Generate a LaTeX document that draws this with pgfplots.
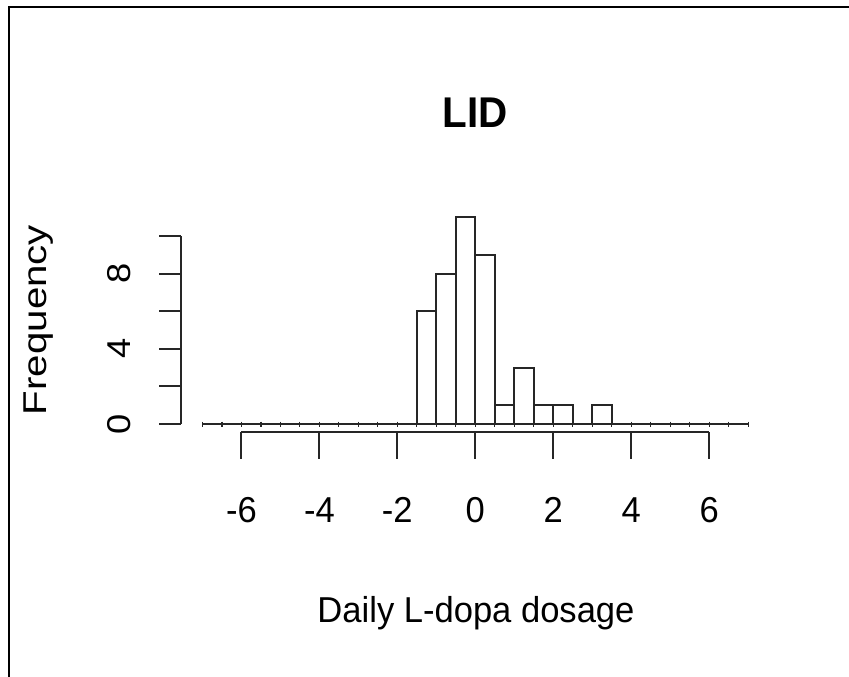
\documentclass[border=0pt]{standalone}
\usepackage{fontspec}
\setmainfont{Liberation Sans}
\usepackage{pgfplots}
\usepackage{pgfplotstable}
\pgfplotsset{compat=1.18}

% Histogram counts: left edge of each 0.5-wide bin and its frequency
\pgfplotstableread{
x     y
-7.0  0
-6.5  0
-6.0  0
-5.5  0
-5.0  0
-4.5  0
-4.0  0
-3.5  0
-3.0  0
-2.5  0
-2.0  0
-1.5  6
-1.0  8
-0.5  11
 0.0  9
 0.5  1
 1.0  3
 1.5  1
 2.0  1
 2.5  0
 3.0  1
 3.5  0
 4.0  0
 4.5  0
 5.0  0
 5.5  0
 6.0  0
 6.5  0
 7.0  0
}\histdata

% horizontal and vertical text, slightly condensed / elongated
\newcommand{\htext}[1]{\scalebox{0.96}[1]{#1}}
\newcommand{\vtext}[1]{\scalebox{1.12}[1]{#1}}

\begin{document}
\begin{tikzpicture}[x=1pt,y=1pt]
\useasboundingbox (0pt,0pt) rectangle (849pt,-677pt);
\draw[line width=2pt] (9pt,-678pt) -- (9pt,-7pt) -- (850pt,-7pt);

\begin{axis}[
  scale only axis,
  width=589.4pt, height=223.3pt,
  at={(180.6pt,-432.3pt)}, anchor=south west,
  xmin=-7.56, xmax=7.56, ymin=-0.44, ymax=11.44,
  hide axis, clip=false,
]
\addplot[ybar interval, fill=white, draw=black!85, line width=2pt] table[x=x,y=y] {\histdata};
\addplot[only marks, mark=|, mark size=2.5pt, mark options={line width=1.2pt, draw=black!85}] table[x=x,y expr=0] {\histdata};

% x axis (R style, offset below the bars)
\draw[line width=2pt, black!85] (axis cs:-6,-0.44) -- (axis cs:6,-0.44);
\pgfplotsinvokeforeach{-6,-4,-2,0,2,4,6}{
  \draw[line width=2pt, black!85] (axis cs:#1,-0.44) -- ++(0pt,-27pt);
  \node[anchor=base, inner sep=0pt, font=\fontsize{36}{43}\selectfont]
    at ([yshift=-90pt]axis cs:#1,-0.44) {\htext{#1}};
}
% y axis
\draw[line width=2pt, black!85] (axis cs:-7.56,0) -- (axis cs:-7.56,10);
\pgfplotsinvokeforeach{0,2,4,6,8,10}{
  \draw[line width=2pt, black!85] (axis cs:-7.56,#1) -- ++(-22pt,0pt);
}
\pgfplotsinvokeforeach{0,4,8}{
  \node[anchor=base, rotate=90, inner sep=0pt, font=\fontsize{33}{40}\selectfont]
    at ([xshift=-50.6pt]axis cs:-7.56,#1) {\scalebox{1.1}[1]{#1}};
}
\end{axis}

\node[anchor=base, inner sep=0pt, font=\fontsize{43}{50}\selectfont\bfseries] at (475.5pt,-128pt) {\scalebox{0.94}[1]{LID}};
\node[anchor=base, inner sep=0pt, font=\fontsize{36}{43}\selectfont] at (476pt,-622pt) {\htext{Daily L-dopa dosage}};
\node[anchor=base, rotate=90, inner sep=0pt, font=\fontsize{33}{40}\selectfont] at (46pt,-320pt) {\scalebox{1.22}[1]{Frequency}};
\end{tikzpicture}
\end{document}
